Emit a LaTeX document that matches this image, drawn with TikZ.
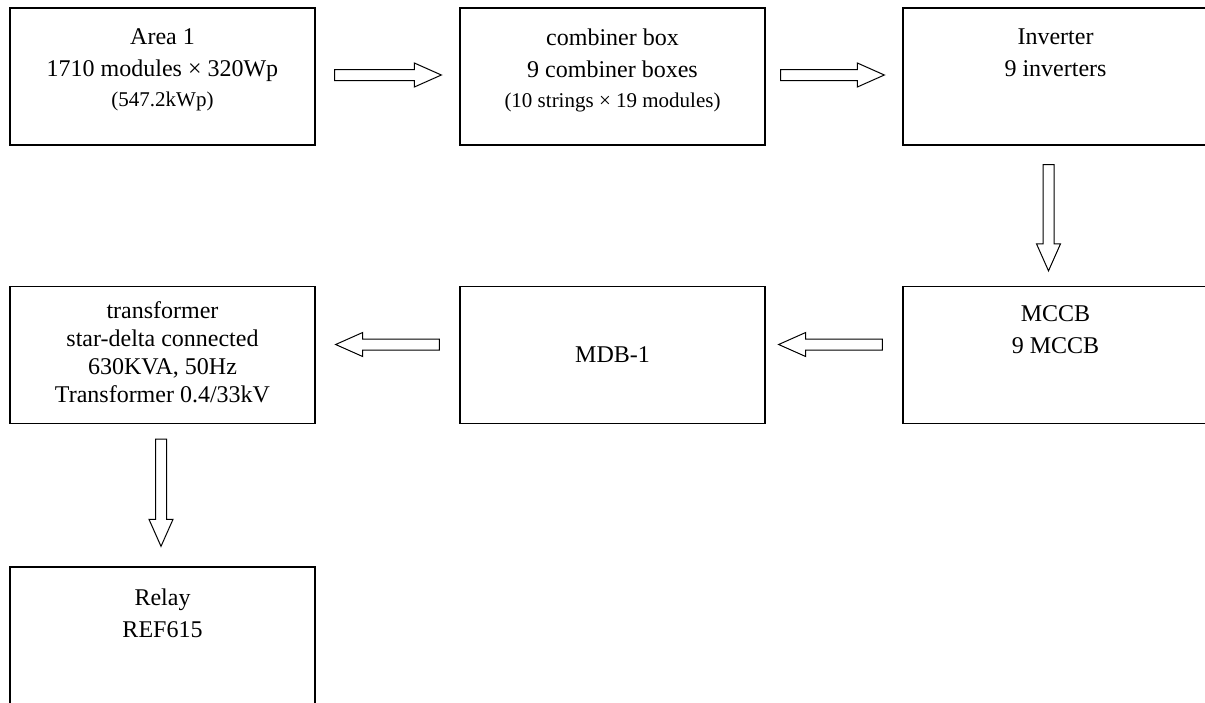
\documentclass[tikz,border=0pt]{standalone}
\usepackage{fontspec}
\setmainfont{Liberation Serif}
\usetikzlibrary{positioning, calc}

\tikzset{
  blk/.style={rectangle, draw, line width=1.3pt, minimum width=305pt,
              minimum height=137pt, inner sep=0pt, font=\fontsize{24}{32}\selectfont},
  txt/.style={align=center, inner sep=0pt, font=\fontsize{24}{32}\selectfont},
  small/.style={},
  fat arrow/.style={draw, line width=1pt, line join=miter, to path={
      ($(\tikztostart)!5.5pt!270:(\tikztotarget)$)
      -- ($(\tikztotarget)!27pt!(\tikztostart)!5.5pt!90:(\tikztostart)$)
      -- ($(\tikztotarget)!27pt!(\tikztostart)!12pt!90:(\tikztostart)$)
      -- (\tikztotarget)
      -- ($(\tikztotarget)!27pt!(\tikztostart)!12pt!270:(\tikztostart)$)
      -- ($(\tikztotarget)!27pt!(\tikztostart)!5.5pt!270:(\tikztostart)$)
      -- ($(\tikztostart)!5.5pt!90:(\tikztotarget)$)
      -- cycle}}
}
\newcommand{\smalltxt}[1]{{\fontsize{21}{28}\selectfont #1}}

\begin{document}
\begin{tikzpicture}[x=1pt, y=1pt]
  \useasboundingbox (0,0) rectangle (1205,-702);

  % top row
  \node[blk] (area) at (162.5,-76.5) {};
  \node[txt, below=21pt of area.north] (area-t)
       {Area 1\\1710 modules × 320Wp\\[-2pt]\smalltxt{(547.2kWp)}};
  \node[blk] (comb) at (612.5,-76.5) {};
  \node[txt, below=21pt of comb.north] (comb-t)
       {combiner box\\9 combiner boxes\\[-2pt]\smalltxt{(10 strings × 19 modules)}};
  \node[blk] (inv) at (1055.5,-76.5) {};
  \node[txt, below=21pt of inv.north] (inv-t) {Inverter\\9 inverters};

  % middle row
  \node[blk] (mccb) at (1055.5,-355) {};
  \node[txt, below=20pt of mccb.north] (mccb-t) {MCCB\\9 MCCB};
  \node[blk] (mdb) at (612.5,-355) {MDB-1};
  \node[blk] (trans) at (162.5,-355) {};
  \node[txt, font=\fontsize{24}{28}\selectfont, below=16pt of trans.north] (trans-t)
       {transformer\\star-delta connected\\630KVA, 50Hz\\Transformer 0.4/33kV};

  % bottom
  \node[blk] (relay) at (162.5,-635.5) {};
  \node[txt, below=22pt of relay.north] (relay-t) {Relay\\REF615};

  % block arrows
  \draw[fat arrow] ([xshift=19pt,yshift=1.5pt]area.east) to ([xshift=-18pt,yshift=1.5pt]comb.west);
  \draw[fat arrow] ([xshift=15pt,yshift=1.5pt]comb.east) to ([xshift=-18pt,yshift=1.5pt]inv.west);
  \draw[fat arrow] ([xshift=-7pt,yshift=-19pt]inv.south) to ([xshift=-7pt,yshift=15pt]mccb.north);
  \draw[fat arrow] ([xshift=-20pt,yshift=10.5pt]mccb.west) to ([xshift=13pt,yshift=10.5pt]mdb.east);
  \draw[fat arrow] ([xshift=-20pt,yshift=10.5pt]mdb.west) to ([xshift=20pt,yshift=10.5pt]trans.east);
  \draw[fat arrow] ([xshift=-1.5pt,yshift=-15pt]trans.south) to ([xshift=-1.5pt,yshift=20pt]relay.north);
\end{tikzpicture}
\end{document}
